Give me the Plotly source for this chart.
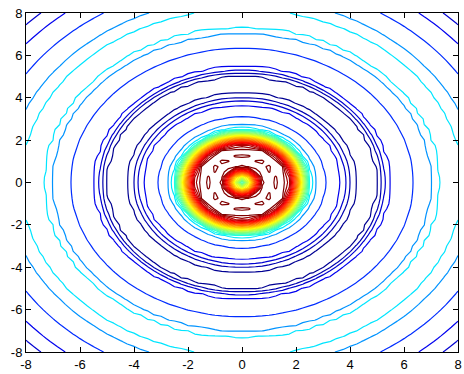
import numpy as np
import plotly.graph_objects as go

# Contour levels: where each level sits on the jet colour map (0 = dark blue, 1 = dark red)
level_jet = [0.02, 0.05, 0.08, 0.11, 0.17, 0.27, 0.35,
             0.400, 0.425, 0.450, 0.475, 0.500, 0.525, 0.550, 0.575, 0.600,
             0.625, 0.650, 0.675, 0.700, 0.725, 0.750, 0.775, 0.800, 0.825,
             0.850, 0.875, 0.900, 0.925, 0.950, 0.975, 1.000]

# Radial section of the surface: distance from the origin and height,
# the height expressed in contour-level numbers (1 .. 32)
profile_r = [0.00, 0.10, 0.70, 0.76, 0.95, 1.20, 1.45, 1.70, 2.50,
             2.57, 2.72, 3.08, 3.70, 3.85, 4.00, 4.20, 4.60, 5.05, 5.17,
             5.29, 5.42, 6.35, 7.05, 7.27, 7.75, 8.20, 8.70, 9.50, 10.35,
             10.90, 11.40]
profile_h = [9.0, 10.0, 31.0, 32.0, 32.7, 31.6, 32.7, 32.0, 8.0,
             7.0, 6.0, 5.0, 4.0, 3.0, 2.0, 1.0, 0.4, 1.0, 2.0,
             3.0, 4.0, 5.0, 6.0, 7.0, 7.4, 7.0, 6.0, 5.0, 4.0,
             3.0, 2.6]

tick_vals = [-8, -6, -4, -2, 0, 2, 4, 6, 8]
tick_text = ["-8", "-6", "-4", "-2", "0", "2", "4", "6", "8"]


def jet(v):
    r = min(max(1.5 - abs(4 * v - 3), 0), 1)
    g = min(max(1.5 - abs(4 * v - 2), 0), 1)
    b = min(max(1.5 - abs(4 * v - 1), 0), 1)
    return f"rgb({int(r * 255)},{int(g * 255)},{int(b * 255)})"


n_levels = len(level_jet)
colorscale = [[i / (n_levels - 1), jet(v)] for i, v in enumerate(level_jet)]

# sample the surface on a square grid
xs = np.linspace(-8, 8, 65)
ys = np.linspace(-8, 8, 65)
X, Y = np.meshgrid(xs, ys)
R = np.hypot(X, Y)
Z = np.interp(R, profile_r, profile_h)

fig = go.Figure(
    go.Contour(
        x=xs, y=ys, z=Z,
        autocontour=False,
        contours=dict(start=1, end=n_levels, size=1, coloring="lines"),
        zmin=1, zmax=n_levels,
        colorscale=colorscale,
        line=dict(width=1.2, smoothing=0),
        showscale=False,
        hoverinfo="skip",
    )
)

axis_style = dict(
    range=[-8, 8],
    tickvals=tick_vals,
    ticktext=tick_text,
    ticks="inside",
    ticklen=5,
    tickcolor="black",
    showline=True,
    linecolor="black",
    linewidth=1,
    mirror="ticks",
    showgrid=False,
    zeroline=False,
    ticklabeloverflow="allow",
    tickfont=dict(family="Liberation Sans", size=13, color="black"),
)

fig.update_layout(
    width=464,
    height=374,
    margin=dict(l=26, r=2, t=13, b=19),
    paper_bgcolor="white",
    plot_bgcolor="white",
    xaxis=axis_style,
    yaxis=axis_style,
    showlegend=False,
)

fig.write_html("out.html")
